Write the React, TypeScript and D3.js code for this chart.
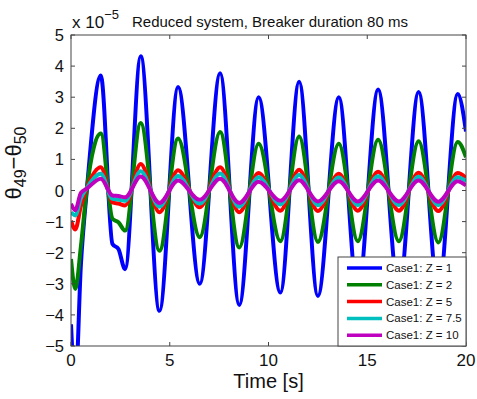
import React from "react";
import * as d3 from "d3";

// sample times (s) at the turning points
const times = [0, 0.22, 0.5, 0.8, 1.51, 2.1, 2.4, 2.74, 3.53, 4.48, 5.42, 6.52, 7.55, 8.52, 9.5, 10.6, 11.55, 12.5, 13.56, 14.52, 15.55, 16.6, 17.6, 18.6, 19.58, 20];

// values in units of 1e-5
const z1 = [-4.3, -6.3, -2.4, 0, 3.7, -1.72, -1.88, -2.53, 4.32, -3.87, 3.33, -3.0, 3.77, -3.68, 3.0, -3.28, 3.5, -3.39, 3.0, -3.3, 3.25, -3.25, 3.17, -3.25, 3.1, 1.9];
const z2 = [-2.2, -3.17, -1.8, 0.05, 1.83, -0.91, -1.02, -1.29, 2.17, -1.94, 1.67, -1.5, 1.88, -1.83, 1.5, -1.63, 1.74, -1.65, 1.5, -1.63, 1.63, -1.63, 1.58, -1.67, 1.56, 1.07];
const z5 = [-0.97, -1.25, -0.5, 0.08, 0.75, -0.38, -0.42, -0.48, 0.85, -0.7, 0.65, -0.54, 0.75, -0.7, 0.56, -0.65, 0.67, -0.66, 0.54, -0.65, 0.6, -0.65, 0.57, -0.66, 0.56, 0.41];
const z75 = [-0.7, -0.8, -0.25, 0.08, 0.54, -0.27, -0.29, -0.33, 0.62, -0.52, 0.47, -0.42, 0.55, -0.52, 0.43, -0.45, 0.5, -0.47, 0.42, -0.47, 0.46, -0.47, 0.44, -0.47, 0.43, 0.3];
const z10 = [-0.43, -0.63, -0.08, 0.06, 0.38, -0.16, -0.18, -0.22, 0.45, -0.4, 0.32, -0.3, 0.38, -0.4, 0.28, -0.33, 0.33, -0.35, 0.3, -0.35, 0.32, -0.35, 0.32, -0.36, 0.3, 0.16];

const seriesNames = ["Case1: Z = 1", "Case1: Z = 2", "Case1: Z = 5", "Case1: Z = 7.5", "Case1: Z = 10"];
const seriesValues = [z1, z2, z5, z75, z10];
const colors = ["#0000ff", "#008000", "#ff0000", "#00bfbf", "#bf00bf"];

const xTicks = [0, 5, 10, 15, 20];
const yTicks = [-5, -4, -3, -2, -1, 0, 1, 2, 3, 4, 5];

const font = "'Liberation Sans', Arial, Helvetica, sans-serif";

const App = () => {
  const width = 477;
  const height = 399;
  const left = 71, right = 466, top = 35, bottom = 346;

  const xScale = d3.scaleLinear().domain([0, 20]).range([left, right]);
  const yScale = d3.scaleLinear().domain([-5, 5]).range([bottom, top]);

  const line = d3
    .line<number>()
    .x((_, i) => xScale(times[i]))
    .y((d) => yScale(d))
    .curve(d3.curveMonotoneX);

  const tickLen = 4;
  const axisColor = "#444";

  // legend box in lower right corner
  const lgX = 338, lgY = 257;
  const lgW = right - lgX, lgH = bottom - lgY;
  const rowH = 16.8;

  const fmt = (v: number) => (v < 0 ? "\u2212" + Math.abs(v) : String(v));

  return (
    <svg width={width} height={height} style={{ position: "absolute", left: 0, top: 0, background: "#fff" }} fontFamily={font}>
      <defs>
        <clipPath id="plot-clip">
          <rect x={left} y={top} width={right - left} height={bottom - top} />
        </clipPath>
      </defs>

      <rect x={left} y={top} width={right - left} height={bottom - top} fill="#fff" />

      <g clipPath="url(#plot-clip)">
        {seriesValues.map((vals, i) => (
          <path key={i} d={line(vals) || ""} fill="none" stroke={colors[i]} strokeWidth={4} strokeLinejoin="round" />
        ))}
      </g>

      {/* ticks */}
      {xTicks.map((t) => (
        <g key={"x" + t}>
          <line x1={xScale(t)} x2={xScale(t)} y1={bottom} y2={bottom - tickLen} stroke={axisColor} />
          <line x1={xScale(t)} x2={xScale(t)} y1={top} y2={top + tickLen} stroke={axisColor} />
          <text x={xScale(t)} y={366} textAnchor="middle" fontSize={17} fill="#111">
            {t}
          </text>
        </g>
      ))}
      {yTicks.map((t) => (
        <g key={"y" + t}>
          <line x1={left} x2={left + tickLen} y1={yScale(t)} y2={yScale(t)} stroke={axisColor} />
          <line x1={right} x2={right - tickLen} y1={yScale(t)} y2={yScale(t)} stroke={axisColor} />
          <text x={64} y={yScale(t)} textAnchor="end" dominantBaseline="central" fontSize={16.5} fill="#111">
            {fmt(t)}
          </text>
        </g>
      ))}

      <rect x={left} y={top} width={right - left} height={bottom - top} fill="none" stroke={axisColor} strokeWidth={1} />

      {/* legend */}
      <rect x={lgX} y={lgY} width={lgW} height={lgH} fill="#fff" stroke={axisColor} strokeWidth={1} />
      {seriesNames.map((name, i) => {
        const cy = lgY + 11 + i * rowH;
        return (
          <g key={name}>
            <line x1={lgX + 9} x2={lgX + 44} y1={cy} y2={cy} stroke={colors[i]} strokeWidth={3.5} />
            <text x={lgX + 48} y={cy} dominantBaseline="central" fontSize={11.5} fill="#111">
              {name}
            </text>
          </g>
        );
      })}

      {/* exponent and title */}
      <text x={72} y={28} fontSize={17} fill="#111">
        x 10
        <tspan dy={-9} fontSize={13}>{"\u22125"}</tspan>
      </text>
      <text x={132} y={27} fontSize={15} fill="#111">
        Reduced system, Breaker duration 80 ms
      </text>

      {/* axis labels */}
      <text x={(left + right) / 2} y={388} textAnchor="middle" fontSize={20} fill="#111">
        Time [s]
      </text>
      <text transform="translate(21,163) rotate(-90)" textAnchor="middle" fontSize={22} fill="#111">
        θ
        <tspan dy={5} fontSize={16}>49</tspan>
        <tspan dy={-5}>−θ</tspan>
        <tspan dy={5} fontSize={16}>50</tspan>
      </text>
    </svg>
  );
};

export default App;
